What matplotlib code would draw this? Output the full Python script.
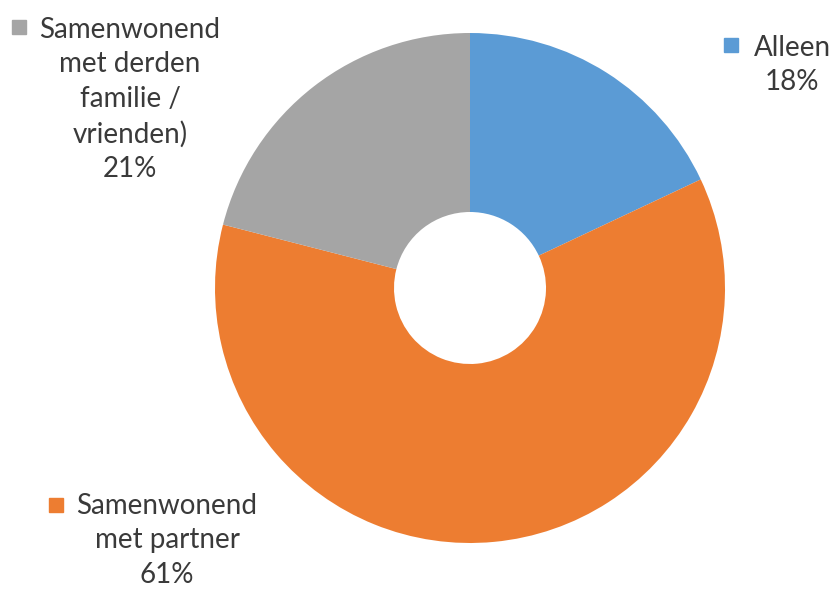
import matplotlib.pyplot as plt

# gegevens
categorieen = ["Alleen", "Samenwonend met partner", "Samenwonend met derden familie / vrienden)"]
percentages = [18, 61, 21]
kleuren = ["#5B9BD5", "#ED7D31", "#A5A5A5"]
labels = ["Alleen\n18%", "Samenwonend\nmet partner\n61%", "Samenwonend\nmet derden\nfamilie /\nvrienden)\n21%"]

W, H = 830, 589
fig = plt.figure(figsize=(W / 100, H / 100), dpi=100)
ax = fig.add_axes([0, 0, 1, 1])

# donut (pixelcoordinaten, y van onder)
straal = 255
ax.pie(percentages, colors=kleuren, startangle=90, counterclock=False,
       center=(470, H - 288), radius=straal, frame=True,
       wedgeprops=dict(width=straal - 76, linewidth=0))
ax.set_xlim(0, W)
ax.set_ylim(0, H)
ax.set_aspect('equal')
ax.axis('off')

tekstkleur = "#3a3a3a"
lettertype = "Lato"
grootte = 20

# posities van de labels: (midden tekst x, y eerste regel), vierkantje (x, y)
posities = {
    0: ((792, 47), (731, 45)),
    1: ((167, 505), (56, 505)),
    2: ((130, 29), (19, 27)),
}

for i, lab in enumerate(labels):
    (tx, ty), (sx, sy) = posities[i]
    ax.text(tx, H - ty + 12, lab, ha='center', va='top', multialignment='center',
            fontsize=grootte, family=lettertype, color=tekstkleur, linespacing=1.40)
    ax.plot(sx, H - sy, marker='s', markersize=10, color=kleuren[i], linestyle='none')

fig.savefig("out.png", dpi=100)
